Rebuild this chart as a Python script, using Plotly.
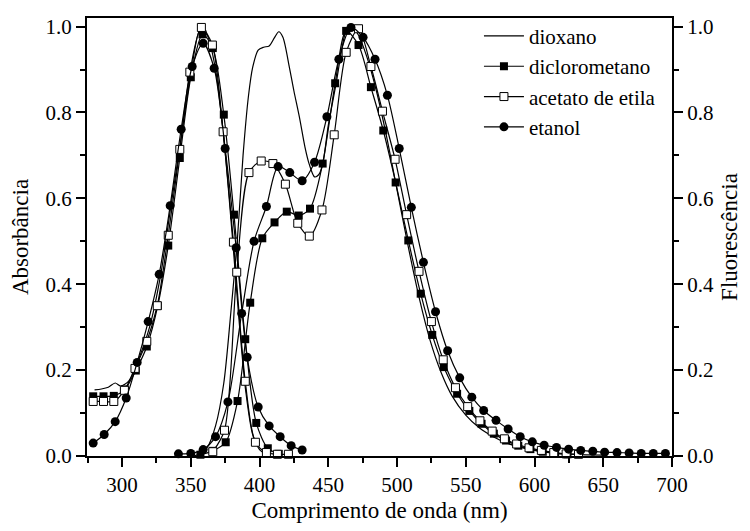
import plotly.graph_objects as go

# ---------------- data ----------------
solvents = ["dioxano", "diclorometano", "acetato de etila", "etanol"]

# Absorption (left axis)
abs_dioxano_x = [280, 285, 290, 295, 299, 305, 312, 320, 328, 335, 342, 350, 357, 362, 368, 374, 380, 385, 390, 395, 400, 405]
abs_dioxano_y = [0.154, 0.156, 0.160, 0.170, 0.163, 0.175, 0.225, 0.300, 0.420, 0.570, 0.720, 0.890, 0.995, 0.980, 0.900, 0.740, 0.520, 0.320, 0.150, 0.050, 0.015, 0.004]

abs_dcm_x = [279, 286.5, 294, 302, 310, 318, 326, 333.6, 342, 350, 358.5, 366, 374, 381.4, 389.6, 397.6, 406, 414]
abs_dcm_y = [0.139, 0.139, 0.140, 0.155, 0.199, 0.255, 0.350, 0.490, 0.694, 0.882, 0.982, 0.950, 0.795, 0.562, 0.272, 0.077, 0.018, 0.005]

abs_acoet_x = [279, 286.5, 294, 301.7, 309.4, 318, 325.6, 333.6, 342, 349.3, 357.7, 365.7, 373.5, 381, 389.6, 397, 405, 413, 421]
abs_acoet_y = [0.127, 0.127, 0.127, 0.153, 0.204, 0.267, 0.350, 0.514, 0.714, 0.894, 0.998, 0.957, 0.755, 0.498, 0.174, 0.032, 0.008, 0.004, 0.004]

abs_etanol_x = [279, 287, 295, 303, 311, 319, 327, 335, 343, 351, 359, 367, 375, 383, 391, 399, 407, 415, 423, 431]
abs_etanol_y = [0.030, 0.050, 0.080, 0.135, 0.218, 0.313, 0.423, 0.583, 0.761, 0.907, 0.961, 0.903, 0.716, 0.485, 0.230, 0.114, 0.070, 0.045, 0.024, 0.014]

# Fluorescence (right axis)
em_dioxano_x = [352, 356, 362, 368, 374, 379, 384, 388, 392, 395, 399, 403, 407, 411, 414, 417, 421.7, 425, 429, 433, 436, 440, 443, 446, 450, 455.6, 460, 463, 467,
                472, 478, 485, 492, 500, 508, 516, 524, 532, 540, 550, 560, 570, 580, 590, 600, 615, 630, 650]
em_dioxano_y = [0.000, 0.004, 0.020, 0.070, 0.170, 0.330, 0.510, 0.700, 0.840, 0.905, 0.945, 0.952, 0.955, 0.975, 0.988, 0.975, 0.905, 0.850, 0.789, 0.720, 0.681, 0.650, 0.655, 0.681, 0.770, 0.866, 0.950, 0.990, 1.000,
                0.980, 0.930, 0.850, 0.750, 0.620, 0.490, 0.370, 0.270, 0.195, 0.140, 0.095, 0.065, 0.045, 0.030, 0.020, 0.013, 0.007, 0.004, 0.002]

em_dcm_x = [357, 366, 375.4, 384, 393.2, 402, 410.9, 419.8, 428.5, 436.7, 445.9, 455, 463, 472, 481, 490, 499, 508.2, 517.2, 525.6, 534, 543.7,
            552.6, 561.5, 570.4, 579.3, 588.2, 597, 606, 615, 624]
em_dcm_y = [0.003, 0.012, 0.032, 0.128, 0.357, 0.507, 0.544, 0.569, 0.560, 0.576, 0.681, 0.868, 0.990, 0.957, 0.859, 0.758, 0.637, 0.502, 0.378, 0.282, 0.207, 0.145,
            0.105, 0.075, 0.052, 0.036, 0.024, 0.016, 0.010, 0.006, 0.004]

em_acoet_x = [366, 374.5, 383.4, 392.3, 401.2, 409.7, 418.8, 427.8, 436.2, 445.4, 454.3, 463, 472, 481, 489.4, 498.6, 507, 516, 525, 533.6, 542.5,
              551.4, 560.3, 569.2, 578.1, 587, 596, 605, 614, 623, 632]
em_acoet_y = [0.010, 0.060, 0.428, 0.660, 0.687, 0.681, 0.633, 0.542, 0.512, 0.573, 0.748, 0.940, 0.995, 0.907, 0.803, 0.691, 0.562, 0.430, 0.313, 0.224, 0.159,
              0.115, 0.082, 0.058, 0.040, 0.028, 0.019, 0.013, 0.008, 0.005, 0.004]

em_etanol_x = [341, 350, 359, 368, 377, 387, 396, 405, 413.5, 422, 431, 440, 449, 457.7, 466.5, 475.3, 484, 493, 501.6, 510.4, 519.2, 528, 536.8,
               545.6, 554.4, 563, 572, 580.8, 589.6, 598.4, 607, 616, 624.8, 633.6, 642.4, 651, 660, 668.8, 677.6, 686.4, 695.2]
em_etanol_y = [0.005, 0.006, 0.015, 0.045, 0.126, 0.332, 0.500, 0.581, 0.674, 0.660, 0.641, 0.684, 0.790, 0.924, 0.998, 0.975, 0.924, 0.840, 0.716, 0.579, 0.451, 0.336, 0.245,
               0.182, 0.137, 0.106, 0.083, 0.063, 0.045, 0.033, 0.025, 0.020, 0.016, 0.013, 0.011, 0.009, 0.008, 0.007, 0.006, 0.006, 0.006]

x_ticks = [300, 350, 400, 450, 500, 550, 600, 650, 700]
y_ticks = [0.0, 0.2, 0.4, 0.6, 0.8, 1.0]

# ---------------- styling ----------------
FONT = "Liberation Serif, Times New Roman, serif"
styles = {
    "dioxano": dict(mode="lines", marker=dict()),
    "diclorometano": dict(mode="lines+markers", marker=dict(symbol="square", size=8, color="black")),
    "acetato de etila": dict(mode="lines+markers", marker=dict(symbol="square", size=8, color="white", line=dict(color="black", width=1))),
    "etanol": dict(mode="lines+markers", marker=dict(symbol="circle", size=9, color="black")),
}

series = {
    "dioxano": ((abs_dioxano_x, abs_dioxano_y), (em_dioxano_x, em_dioxano_y)),
    "diclorometano": ((abs_dcm_x, abs_dcm_y), (em_dcm_x, em_dcm_y)),
    "acetato de etila": ((abs_acoet_x, abs_acoet_y), (em_acoet_x, em_acoet_y)),
    "etanol": ((abs_etanol_x, abs_etanol_y), (em_etanol_x, em_etanol_y)),
}

fig = go.Figure()
for name in solvents:
    (ax, ay), (ex, ey) = series[name]
    st = styles[name]
    for i, (xx, yy, yax) in enumerate([(ax, ay, "y"), (ex, ey, "y2")]):
        fig.add_trace(go.Scatter(
            x=xx, y=yy, yaxis=yax, name=name, legendgroup=name,
            showlegend=(i == 0), mode=st["mode"],
            line=dict(color="black", width=1.2, shape="spline", smoothing=0.8),
            marker=st["marker"], cliponaxis=False,
        ))

axis_common = dict(showline=True, linecolor="black", linewidth=2, showgrid=False, zeroline=False,
                   ticks="outside", tickcolor="black", tickwidth=1.5, automargin=False,
                   tickfont=dict(family=FONT, size=21, color="black"))

# the page body adds an 8px margin, so the figure is sized to fit inside it
fig.update_layout(
    width=734, height=515,
    margin=dict(l=79, r=70, t=8, b=67),
    paper_bgcolor="white", plot_bgcolor="white",
    font=dict(family=FONT, color="black"),
    xaxis=dict(range=[274.5, 700], tickvals=x_ticks, ticklen=9, mirror=True,
               minor=dict(dtick=25, tick0=0, ticklen=5, ticks="outside", tickcolor="black", tickwidth=1.5),
               title=dict(text="Comprimento de onda (nm)", font=dict(family=FONT, size=23), standoff=20),
               **axis_common),
    yaxis=dict(range=[0, 1.02], tickvals=y_ticks, tickformat=".1f", ticklen=9,
               minor=dict(dtick=0.1, tick0=0, ticklen=5, ticks="outside", tickcolor="black", tickwidth=1.5),
               title=dict(text="Absorbância", font=dict(family=FONT, size=23), standoff=20),
               **axis_common),
    yaxis2=dict(range=[0, 1.02], tickvals=y_ticks, tickformat=".1f", ticklen=9, overlaying="y", side="right",
                minor=dict(dtick=0.1, tick0=0, ticklen=5, ticks="outside", tickcolor="black", tickwidth=1.5),
                title=dict(text="Fluorescência", font=dict(family=FONT, size=23), standoff=14),
                **axis_common),
    legend=dict(x=0.67, y=1.005, xanchor="left", yanchor="top", bgcolor="rgba(0,0,0,0)",
                font=dict(family=FONT, size=21, color="black"), tracegroupgap=0, itemwidth=40),
)

fig.write_html("out.html")
